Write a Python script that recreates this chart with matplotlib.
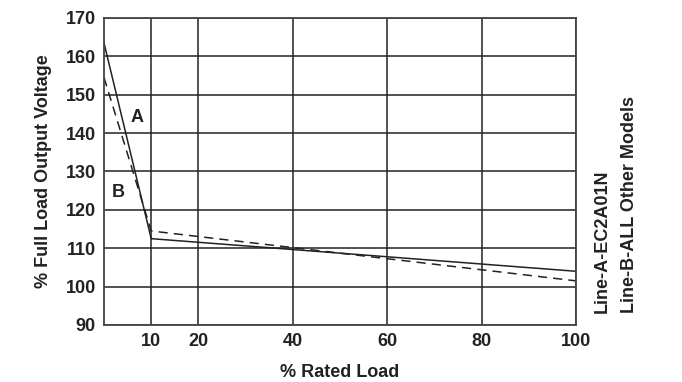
import matplotlib
matplotlib.use("Agg")
import matplotlib.pyplot as plt

plt.rcParams['font.family'] = ['Liberation Sans', 'DejaVu Sans']

load_a = [0, 10, 100]
volt_a = [163.5, 112.5, 104.0]
load_b = [0, 10, 100]
volt_b = [154.5, 114.5, 101.5]

x_ticks = [10, 20, 40, 60, 80, 100]
y_ticks = [90, 100, 110, 120, 130, 140, 150, 160, 170]

FS = 13
TXT = '#222222'

fig = plt.figure(figsize=(6.82, 3.82), dpi=100)
ax = fig.add_axes([104/682, 1-325/382, (576-104)/682, (325-18)/382])

ax.set_xlim(0, 100)
ax.set_ylim(90, 170)
ax.set_xticks(x_ticks)
ax.set_yticks(y_ticks)
ax.grid(True, color='#222222', linewidth=1.1)
ax.set_axisbelow(True)
for s in ax.spines.values():
    s.set_color('#444444')
    s.set_linewidth(1.3)
ax.tick_params(length=0, pad=6, labelsize=FS)
for lab in ax.get_xticklabels() + ax.get_yticklabels():
    lab.set_fontweight('bold')
    lab.set_color(TXT)

ax.plot(load_a, volt_a, color='#222222', linewidth=1.1)
ax.plot(load_b, volt_b, color='#222222', linewidth=1.1, dashes=(6, 4))

ax.text(7, 144, 'A', fontsize=FS, fontweight='bold', color=TXT, ha='center', va='center')
ax.text(3, 124.5, 'B', fontsize=FS, fontweight='bold', color=TXT, ha='center', va='center')

ax.set_xlabel('% Rated Load', fontsize=FS, fontweight='bold', color=TXT, labelpad=10)
ax.set_ylabel('% Full Load Output Voltage', fontsize=FS, fontweight='bold', color=TXT, labelpad=10)

fig.text(602/682, 1-313/382, 'Line-A-EC2A01N', rotation=90, rotation_mode='anchor',
         ha='left', va='center', fontsize=FS, fontweight='bold', color=TXT)
fig.text(629/682, 1-313/382, 'Line-B-ALL Other Models', rotation=90, rotation_mode='anchor',
         ha='left', va='center', fontsize=FS, fontweight='bold', color=TXT)

fig.savefig('out.png', dpi=100)
